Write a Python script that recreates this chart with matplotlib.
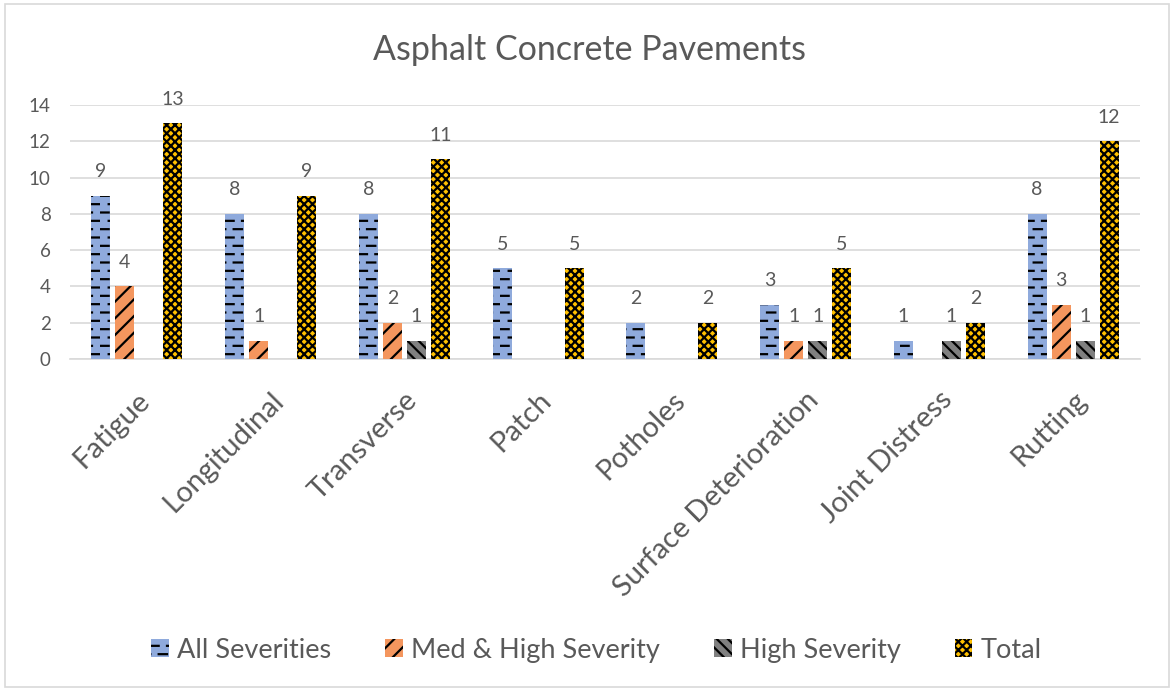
import matplotlib
matplotlib.use("Agg")
import matplotlib.pyplot as plt
import matplotlib.hatch as mhatch
import numpy as np
from matplotlib.path import Path
from matplotlib.patches import Rectangle

categories = ["Fatigue", "Longitudinal", "Transverse", "Patch", "Potholes",
              "Surface Deterioration", "Joint Distress", "Rutting"]
all_sev = [9, 8, 8, 5, 2, 3, 1, 8]
med_high = [4, 1, 2, 0, 0, 1, 0, 3]
high = [0, 0, 1, 0, 0, 1, 1, 1]
total = [13, 9, 11, 5, 2, 5, 2, 12]
series_names = ["All Severities", "Med & High Severity", "High Severity", "Total"]
yticks = [0, 2, 4, 6, 8, 10, 12, 14]


class DashHatch(mhatch.HatchPatternBase):
    """Short horizontal dashes in staggered rows (replaces '-' hatch)."""
    def __init__(self, hatch, density):
        self.num_rows = (hatch.count('-') + hatch.count('+')) * density
        self.ncols = 6
        self.num_vertices = self.num_rows * self.ncols * 2

    def set_vertices_and_codes(self, vertices, codes):
        per = 1.0 / self.ncols
        L = 0.5 * per
        k = 0
        for r in range(self.num_rows):
            y = (r + 0.5) / self.num_rows
            off = 0.5 * per if r % 2 else 0.0
            for c in range(self.ncols):
                x0 = c * per + off + 0.02 * per
                vertices[k] = (x0, y)
                vertices[k + 1] = (x0 + L, y)
                codes[k] = Path.MOVETO
                codes[k + 1] = Path.LINETO
                k += 2


mhatch._hatch_types = [DashHatch if t is mhatch.HorizontalHatch else t
                       for t in mhatch._hatch_types]

plt.rcParams['font.family'] = ['Lato', 'DejaVu Sans']
plt.rcParams['hatch.linewidth'] = 1.6
TXT = '#595959'

fig = plt.figure(figsize=(11.74, 6.91), dpi=100)
fig.patches.append(Rectangle((0.004, 0.006), 0.992, 0.988, transform=fig.transFigure,
                             fill=False, edgecolor='#D9D9D9', linewidth=1.2))
ax = fig.add_axes([0.0596, 0.4805, 0.9115, 0.3676])

x = np.arange(len(categories))
step = 0.1795
w = 0.142
styles = [
    dict(color='#8FAADC', hatch='--'),
    dict(color='#F4965E', hatch='//'),
    dict(color='#808080', hatch='\\\\\\'),
    dict(color='#FFC000', hatch='xxxx'),
]
data = [all_sev, med_high, high, total]
for i, (vals, st, name) in enumerate(zip(data, styles, series_names)):
    pos = x + (i - 1.5) * step
    v = np.array(vals, dtype=float)
    ax.bar(pos, v, width=w, color=st['color'], hatch=st['hatch'],
           edgecolor='black', linewidth=0, label=name, zorder=3)
    for p, val in zip(pos, vals):
        if val > 0:
            ax.text(p, val + 0.85, str(val), ha='center', va='bottom',
                    fontsize=14, color=TXT)

ax.set_xlim(-0.5, len(categories) - 0.5)
ax.set_ylim(0, 14)
ax.set_yticks(yticks)
ax.set_yticklabels([str(t) for t in yticks], fontsize=13.5, color=TXT)
ax.yaxis.grid(True, color='#D9D9D9', linewidth=1.2, zorder=0)
ax.set_axisbelow(True)
for s in ['top', 'right', 'left']:
    ax.spines[s].set_visible(False)
ax.spines['bottom'].set_color('#D9D9D9')
ax.spines['bottom'].set_linewidth(1.2)
ax.tick_params(axis='y', length=0, pad=14)
ax.tick_params(axis='x', length=0, pad=20)
ax.set_xticks(x)
ax.set_xticklabels(categories, rotation=45, ha='right', rotation_mode='anchor',
                   fontsize=21, color=TXT)

fig.text(0.502, 0.927, "Asphalt Concrete Pavements", ha='center', va='center',
         fontsize=24.5, color=TXT)

leg = fig.legend(loc='center', bbox_to_anchor=(0.508, 0.059), ncol=4, frameon=False,
                 fontsize=19.5, handlelength=0.65, handleheight=0.65, handletextpad=0.3,
                 columnspacing=2.0, labelcolor=TXT)

fig.savefig("out.png", dpi=100)
